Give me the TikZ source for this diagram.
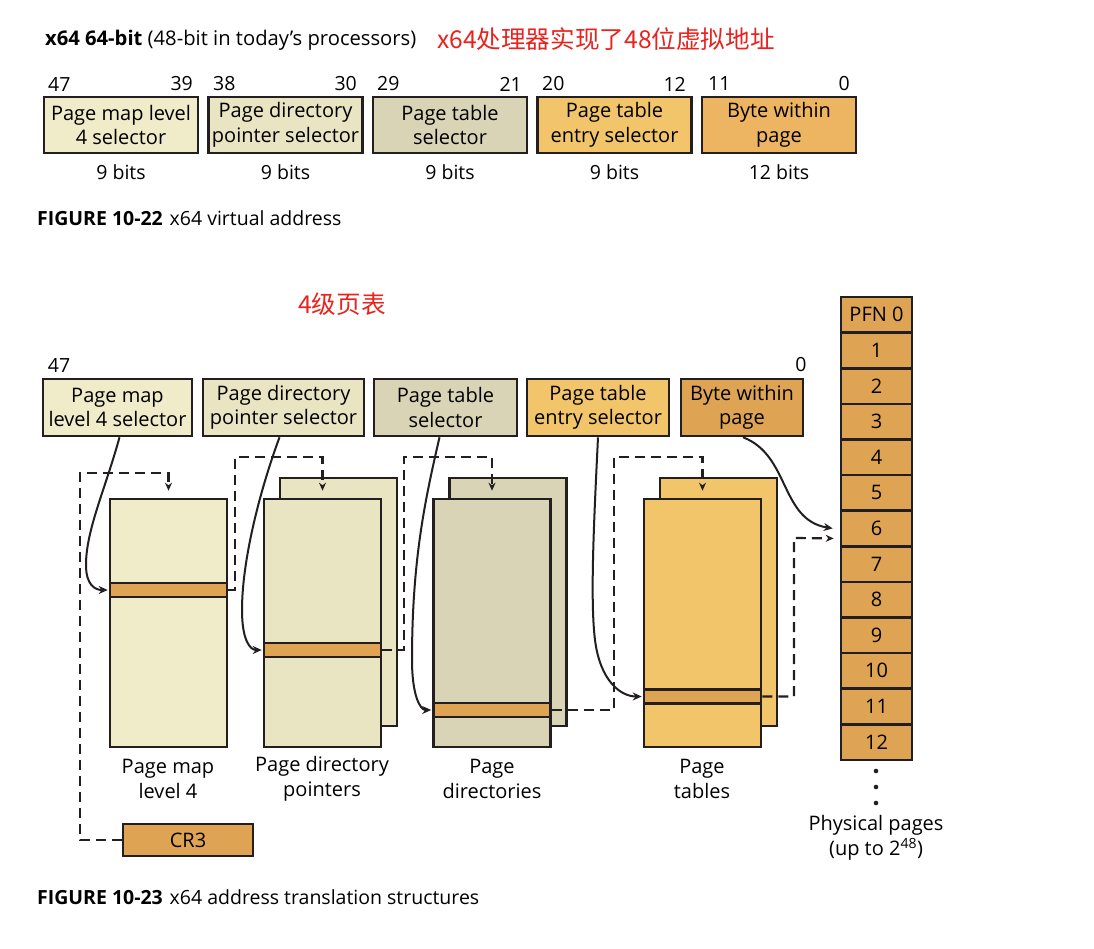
\documentclass[tikz,border=0pt]{standalone}
\usepackage{fontspec}
\setmainfont{Open Sans}
\newfontfamily\cjk{Noto Sans CJK SC}
\usetikzlibrary{arrows.meta}
\definecolor{linec}{HTML}{231F20}
\definecolor{cA}{HTML}{F0EBC9}
\definecolor{cB}{HTML}{E9E4C1}
\definecolor{cC}{HTML}{D8D4B5}
\definecolor{cD}{HTML}{F2C56B}
\definecolor{cE}{HTML}{EDB462}
\definecolor{cOr}{HTML}{DEA453}
\definecolor{redc}{HTML}{E8231E}
\begin{document}
\begin{tikzpicture}[x=1pt,y=-1pt,
  box/.style={draw=linec, line width=2.6pt, inner sep=0pt, align=center, font=\fontsize{20}{24.5}\selectfont},
  tbl/.style={draw=linec, line width=2.6pt, inner sep=0pt, minimum width=117, minimum height=248},
  stripe/.style={draw=linec, line width=2.6pt, inner sep=0pt, minimum width=117, minimum height=14, fill=cOr},
  txt/.style={inner sep=0pt, align=center, font=\fontsize{20}{25}\selectfont},
  num/.style={inner sep=0pt, font=\fontsize{19.5}{24}\selectfont},
  conn/.style={line width=2pt, draw=linec, -{Stealth[length=9pt,width=8pt]}},
  dline/.style={line width=2.2pt, draw=linec, dash pattern=on 10pt off 6pt, -{Stealth[length=8pt,width=7pt]}},
  pfncell/.style={draw=linec, line width=2.6pt, fill=cOr, inner sep=0pt, minimum width=71, minimum height=35.6, font=\fontsize{20}{24}\selectfont}
]
\useasboundingbox[fill=white] (0,0) rectangle (1094,948);

% ---------- Figure 10-22 ----------
\node[inner sep=0pt, anchor=west, font=\fontsize{20.2}{24}\selectfont] (title) at (45,40) {\textbf{x64 64-bit} (48-bit in today's processors)};
\node[inner sep=0pt, anchor=west, text=redc, font=\cjk\fontsize{24.6}{28}\selectfont] (cn1) at (437,39) {x64处理器实现了48位虚拟地址};

\node[box, fill=cA, minimum width=154, minimum height=56] (t1) at (121,125) {Page map level\\4 selector};
\node[box, fill=cB, minimum width=154, minimum height=56] (t2) at (285.5,125) {Page directory\\pointer selector};
\node[box, fill=cC, minimum width=154, minimum height=56] (t3) at (450,125) {Page table\\selector};
\node[box, fill=cD, minimum width=154, minimum height=56] (t4) at (614.5,125) {Page table\\entry selector};
\node[box, fill=cE, minimum width=154, minimum height=56] (t5) at (779,125) {Byte within\\page};

\node[num, anchor=west] (b47) at (48,84) {47};
\node[num, anchor=east] (b39) at (193,84) {39};
\node[num, anchor=west] (b38) at (213,84) {38};
\node[num, anchor=east] (b30) at (357,84) {30};
\node[num, anchor=west] (b29) at (377,84) {29};
\node[num, anchor=east] (b21) at (522,84) {21};
\node[num, anchor=west] (b20) at (542,84) {20};
\node[num, anchor=east] (b12) at (686,84) {12};
\node[num, anchor=west] (b11) at (708,84) {11};
\node[num, anchor=east] (b0) at (850,84) {0};

\node[num] (s1) at (121,172) {9 bits};
\node[num] (s2) at (285.5,172) {9 bits};
\node[num] (s3) at (450,172) {9 bits};
\node[num] (s4) at (614.5,172) {9 bits};
\node[num] (s5) at (779,172) {12 bits};

\node[inner sep=0pt, anchor=west, font=\fontsize{19.5}{22}\selectfont] (cap1) at (37,218) {\textbf{FIGURE 10-22}\hspace{0.35em}x64 virtual address};

% ---------- Figure 10-23 ----------
\node[inner sep=0pt, text=redc, font=\cjk\fontsize{24.6}{28}\selectfont] (cn2) at (342,304) {4级页表};

\node[num] (c47) at (59,365) {47};
\node[num] (c0) at (801,365) {0};

\node[box, fill=cA, minimum width=149, minimum height=57] (selA) at (117.5,407.5) {Page map\\level 4 selector};
\node[box, fill=cB, minimum width=161, minimum height=57] (selB) at (283.5,407.5) {Page directory\\pointer selector};
\node[box, fill=cC, minimum width=143, minimum height=57] (selC) at (445.5,407.5) {Page table\\selector};
\node[box, fill=cD, minimum width=142, minimum height=57] (selD) at (598,407.5) {Page table\\entry selector};
\node[box, fill=cOr, minimum width=122, minimum height=57] (selE) at (742,407.5) {Byte within\\page};

% tables
\node[tbl, fill=cA] (pml4) at (168.5,623) {};
\node[stripe] (pml4e) at (168.5,590) {};

\node[tbl, fill=cB] (pdptB) at (338.5,602) {};
\node[tbl, fill=cB] (pdpt) at (322.5,623) {};
\node[stripe] (pdpte) at (322.5,650) {};

\node[tbl, fill=cC] (pdB) at (508,602) {};
\node[tbl, fill=cC] (pd) at (492,623) {};
\node[stripe] (pde) at (492,710) {};

\node[tbl, fill=cD] (ptB) at (718.5,602) {};
\node[tbl, fill=cD] (pt) at (702.5,623) {};
\node[stripe] (pte) at (702.5,696.5) {};

\node[txt] (l1) at (168,778.5) {Page map\\level 4};
\node[txt] (l2) at (322,778.5) {Page directory\\pointers};
\node[txt] (l3) at (492,778.5) {Page\\directories};
\node[txt] (l4) at (702,778.5) {Page\\tables};

\node[box, fill=cOr, minimum width=130, minimum height=32] (cr3) at (188,840) {CR3};

% physical pages
\foreach \i/\t in {0/PFN 0,1/1,2/2,3/3,4/4,5/5,6/6,7/7,8/8,9/9,10/10,11/11,12/12}{
  \node[pfncell] (pfn\i) at (876.5,{297+35.6*(\i+0.5)}) {\t};
}
\fill[linec] (876,771) circle (2.3) (876,787) circle (2.3) (876,803) circle (2.3);
\node[txt] (phys) at (876,838) {Physical pages\\(up to 2\textsuperscript{48})};

\node[inner sep=0pt, anchor=west, font=\fontsize{19.5}{22}\selectfont] (cap2) at (37,897) {\textbf{FIGURE 10-23}\hspace{0.35em}x64 address translation structures};

% dashed pointer chains
\draw[dline] (cr3.west) -| (80,473) -| ([yshift=7pt]pml4.north);
\draw[dline] (pml4e.east) -| (235,457) -| ([yshift=7pt]pdpt.north);
\draw[dline] (pdpte.east) -| (404,457) -| ([yshift=7pt]pd.north);
\draw[dline] (pde.east) -| (614,457) -| ([yshift=7pt]pt.north);
\draw[dline] (pte.east) -| (794,538) -- ([xshift=-6pt,yshift=-10pt]pfn6.west);

% selector curves
\draw[conn, shorten >=1pt] ([xshift=2pt]selA.south) .. controls (105,490) and (86,530) .. (86,565) .. controls (86,585) and (95,590) .. (pml4e.west);
\draw[conn, shorten >=1pt] ([xshift=-4pt]selB.south) .. controls (260,490) and (242,560) .. (242,610) .. controls (242,640) and (250,650) .. (pdpte.west);
\draw[conn, shorten >=1pt] ([xshift=-6pt]selC.south) .. controls (425,500) and (412,560) .. (412,660) .. controls (412,695) and (420,710) .. (pde.west);
\draw[conn, shorten >=1pt] (selD.south) .. controls (594,520) and (590,600) .. (595,640) .. controls (600,680) and (620,696.5) .. (pte.west);
\draw[conn] ([xshift=1pt]selE.south) .. controls (790,455) and (780,520) .. ([xshift=-7pt]pfn6.west);
\end{tikzpicture}
\end{document}
